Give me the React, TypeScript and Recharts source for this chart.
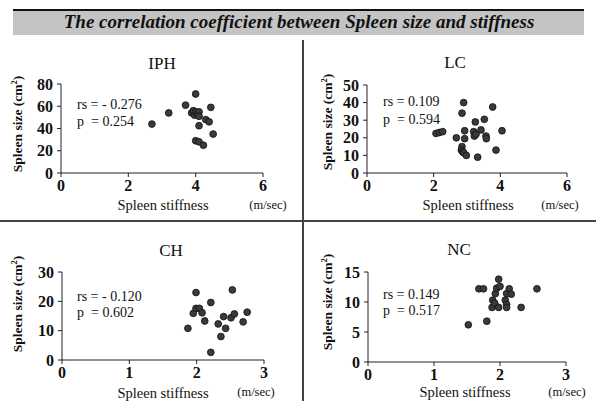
import React from 'react';
import { ScatterChart, Scatter, XAxis, YAxis } from 'recharts';

// values (stiffness m/sec, size cm2)
const iphStiffness = [2.7, 3.2, 3.7, 4.0, 4.45, 3.88, 3.93, 3.97, 4.0, 4.05, 4.1, 4.1, 4.3, 4.4, 4.1, 4.52, 4.0, 4.1, 4.23];
const iphSize = [44, 54, 61, 71, 59, 54, 56, 52, 55, 53, 55, 51, 48, 46, 42.5, 35, 29, 28, 25];

const lcStiffness = [2.07, 2.17, 2.27, 2.68, 2.85, 2.9, 2.93, 2.93, 2.85, 2.83, 2.87, 2.9, 2.98, 3.2, 3.22, 3.25, 3.27, 3.32, 3.42, 3.52, 3.57, 3.58, 3.77, 3.87, 4.05];
const lcSize = [22.5, 23, 23.5, 20, 34, 40, 24, 19.5, 15, 13, 12, 11.5, 10, 23.5, 21, 29, 22, 9, 24.5, 30.5, 21, 19.5, 37.5, 13, 24];

const chStiffness = [1.87, 1.95, 1.99, 1.99, 2.04, 2.08, 2.12, 2.21, 2.21, 2.32, 2.36, 2.4, 2.43, 2.51, 2.53, 2.56, 2.69, 2.75];
const chSize = [10.8, 15.9, 23, 17.6, 17.6, 16.1, 13.3, 19.6, 2.6, 12.3, 8, 14.8, 10.8, 14.4, 23.9, 15.7, 13, 16.3];

const ncStiffness = [1.52, 1.68, 1.75, 1.8, 1.88, 1.89, 1.92, 1.93, 1.95, 1.98, 1.98, 2.0, 2.08, 2.1, 2.1, 2.1, 2.14, 2.17, 2.32, 2.56];
const ncSize = [6.2, 12.2, 12.2, 6.8, 9.1, 10.3, 9.8, 11.4, 12.3, 13.8, 9.1, 12.6, 10.3, 9.6, 9.1, 11.4, 12.2, 11.3, 9.1, 12.2];

const ticksX6 = [0, 2, 4, 6];
const ticksX3 = [0, 1, 2, 3];

const toPoints = (xs: number[], ys: number[]) => xs.map((x, i) => ({ x, y: ys[i] }));

const serif = '"Liberation Serif", "Times New Roman", serif';
const tickStyle = { fontSize: 16, fill: '#111', fontFamily: serif, fontWeight: 'bold' };

const Dot = (props: any) => {
  const { cx, cy } = props;
  if (cx == null || cy == null) return null;
  return <circle cx={cx} cy={cy} r={3.4} fill="#3a3a3a" stroke="#111" strokeWidth={0.8} />;
};

interface PanelProps {
  left: number;
  top: number;
  width: number;
  height: number;
  margin: { top: number; right: number; bottom: number; left: number };
  data: { x: number; y: number }[];
  xMax: number;
  yMax: number;
  xTicks: number[];
  yTicks: number[];
}

const Panel: React.FC<PanelProps> = ({ left, top, width, height, margin, data, xMax, yMax, xTicks, yTicks }) => (
  <div style={{ position: 'absolute', left, top }}>
    <ScatterChart width={width} height={height} margin={margin}>
      <XAxis
        type="number"
        dataKey="x"
        domain={[0, xMax]}
        ticks={xTicks}
        interval={0}
        height={30}
        tick={tickStyle}
        tickSize={4}
        tickMargin={3}
        axisLine={{ stroke: '#222' }}
        tickLine={{ stroke: '#222' }}
      />
      <YAxis
        type="number"
        dataKey="y"
        domain={[0, yMax]}
        ticks={yTicks}
        interval={0}
        width={30}
        tick={tickStyle}
        tickSize={4}
        tickMargin={4}
        axisLine={{ stroke: '#222' }}
        tickLine={{ stroke: '#222' }}
      />
      <Scatter data={data} shape={<Dot />} isAnimationActive={false} />
    </ScatterChart>
  </div>
);

const Txt: React.FC<{ x: number; y: number; size: number; center?: boolean; bold?: boolean; children: React.ReactNode }> = ({ x, y, size, center, bold, children }) => (
  <div
    style={{
      position: 'absolute',
      left: x,
      top: y,
      transform: center ? 'translate(-50%, -50%)' : 'translate(0, -50%)',
      fontSize: size,
      fontWeight: bold ? 'bold' : 'normal',
      lineHeight: 1,
      whiteSpace: 'pre',
      color: '#111',
    }}
  >
    {children}
  </div>
);

const YLabel: React.FC<{ x: number; y: number }> = ({ x, y }) => (
  <div
    style={{
      position: 'absolute',
      left: x,
      top: y,
      transform: 'translate(-50%, -50%) rotate(-90deg)',
      fontSize: 13.5,
      fontWeight: 'bold',
      lineHeight: 1,
      whiteSpace: 'nowrap',
      color: '#111',
    }}
  >
    Spleen size (cm<sup style={{ fontSize: 8.5 }}>2</sup>)
  </div>
);

export default function App() {
  return (
    <div style={{ position: 'absolute', left: 0, top: 0, width: 596, height: 401, background: '#fff', fontFamily: serif, overflow: 'hidden' }}>
      <style>{`.recharts-cartesian-axis-tick-value { font-family: "Liberation Serif", serif; }`}</style>
      {/* title banner */}
      <div style={{ position: 'absolute', left: 13, top: 9, width: 571, height: 24, background: '#c4c4c4', borderTop: '2px solid #111' }} />
      <div
        style={{
          position: 'absolute',
          left: 299,
          top: 22,
          transform: 'translate(-50%, -50%)',
          fontSize: 19,
          fontWeight: 'bold',
          fontStyle: 'italic',
          whiteSpace: 'nowrap',
          color: '#111',
        }}
      >
        The correlation coefficient between Spleen size and stiffness
      </div>

      {/* dividers */}
      <div style={{ position: 'absolute', left: 302, top: 40, width: 1.5, height: 361, background: '#444' }} />
      <div style={{ position: 'absolute', left: 0, top: 220, width: 596, height: 1.5, background: '#444' }} />

      <Panel left={0} top={40} width={300} height={180} margin={{ top: 44, right: 37, bottom: 17, left: 31 }}
        data={toPoints(iphStiffness, iphSize)} xMax={6} yMax={80} xTicks={ticksX6} yTicks={[0, 20, 40, 60, 80]} />
      <Panel left={300} top={40} width={296} height={180} margin={{ top: 45, right: 29, bottom: 17, left: 37 }}
        data={toPoints(lcStiffness, lcSize)} xMax={6} yMax={50} xTicks={ticksX6} yTicks={[0, 10, 20, 30, 40, 50]} />
      <Panel left={0} top={222} width={300} height={179} margin={{ top: 50, right: 36, bottom: 11, left: 32 }}
        data={toPoints(chStiffness, chSize)} xMax={3} yMax={30} xTicks={ticksX3} yTicks={[0, 10, 20, 30]} />
      <Panel left={300} top={222} width={296} height={179} margin={{ top: 50, right: 30, bottom: 9, left: 38 }}
        data={toPoints(ncStiffness, ncSize)} xMax={3} yMax={15} xTicks={ticksX3} yTicks={[0, 5, 10, 15]} />

      {/* panel titles */}
      <Txt x={162} y={63} size={17} center>IPH</Txt>
      <Txt x={455} y={62} size={17} center>LC</Txt>
      <Txt x={171} y={250} size={17} center>CH</Txt>
      <Txt x={459} y={249} size={17} center>NC</Txt>

      {/* statistics */}
      <Txt x={77} y={105} size={14}>rs = - 0.276</Txt>
      <Txt x={77} y={122} size={14}>p  = 0.254</Txt>
      <Txt x={383} y={102} size={14}>rs = 0.109</Txt>
      <Txt x={383} y={120} size={14}>p  = 0.594</Txt>
      <Txt x={77} y={297} size={14}>rs = - 0.120</Txt>
      <Txt x={77} y={313} size={14}>p  = 0.602</Txt>
      <Txt x={383} y={295} size={14}>rs = 0.149</Txt>
      <Txt x={383} y={311} size={14}>p  = 0.517</Txt>

      {/* axis titles */}
      <Txt x={163} y={205} size={14.5} center>Spleen stiffness</Txt>
      <Txt x={468} y={205} size={14.5} center>Spleen stiffness</Txt>
      <Txt x={163} y={393} size={14.5} center>Spleen stiffness</Txt>
      <Txt x={465} y={392} size={14.5} center>Spleen stiffness</Txt>
      <Txt x={268} y={205} size={12.5} center>(m/sec)</Txt>
      <Txt x={560} y={205} size={12.5} center>(m/sec)</Txt>
      <Txt x={256} y={392} size={12.5} center>(m/sec)</Txt>
      <Txt x={567} y={392} size={12.5} center>(m/sec)</Txt>

      <YLabel x={17} y={124} />
      <YLabel x={327} y={122} />
      <YLabel x={17} y={304} />
      <YLabel x={327} y={302} />
    </div>
  );
}
